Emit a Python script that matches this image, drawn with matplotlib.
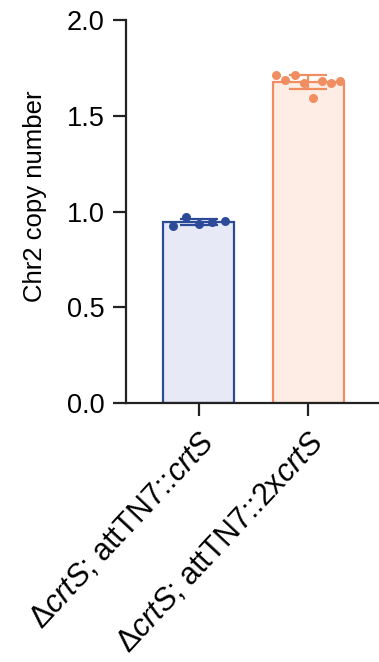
import numpy as np
import matplotlib.pyplot as plt

plt.rcParams['font.family'] = ['Liberation Sans', 'DejaVu Sans']
plt.rcParams['mathtext.fontset'] = 'custom'
plt.rcParams['mathtext.rm'] = 'Liberation Sans'
plt.rcParams['mathtext.it'] = 'Liberation Sans:italic'

# data
strains = [r'$\Delta$$\it{crtS}$; attTN7::$\it{crtS}$',
           r'$\Delta$$\it{crtS}$; attTN7::2x$\it{crtS}$']
single_copy = [0.925, 0.97, 0.935, 0.945, 0.95]
double_copy = [1.71, 1.685, 1.71, 1.67, 1.59, 1.68, 1.67, 1.68]
groups = [single_copy, double_copy]

edge_colors = ['#2d4a98', '#f08e62']
face_colors = ['#e7eaf6', '#fdede5']
spread = [0.24, 0.29]

fig = plt.figure(figsize=(3.79, 6.62), dpi=100)
ax = fig.add_axes([0.332, 0.391, 0.668, 0.579])

lw = 1.6
for i, vals in enumerate(groups):
    vals = np.array(vals)
    mean = vals.mean()
    sd = vals.std(ddof=1)
    ax.bar(i, mean, width=0.65, color=face_colors[i], edgecolor=edge_colors[i],
           linewidth=lw, zorder=1)
    xs = i + np.linspace(-spread[i], spread[i], len(vals))
    ax.scatter(xs, vals, s=42, color=edge_colors[i], zorder=3, linewidths=0)
    ax.errorbar(i, mean, yerr=sd, color=edge_colors[i], capsize=14,
                elinewidth=lw, capthick=lw, zorder=4)

ax.set_xlim(-0.67, 1.65)
ax.set_ylim(0, 2.0)
ax.set_yticks([0.0, 0.5, 1.0, 1.5, 2.0])
ax.set_yticklabels(['0.0', '0.5', '1.0', '1.5', '2.0'])
ax.set_xticks([0, 1])
ax.set_xticklabels(strains, rotation=47, ha='right', rotation_mode='anchor', fontsize=22)
ax.set_ylabel('Chr2 copy number', fontsize=18.5)
ax.yaxis.set_label_coords(-0.31, 0.54)

for side in ['top', 'right']:
    ax.spines[side].set_visible(False)
for side in ['left', 'bottom']:
    ax.spines[side].set_linewidth(lw)
    ax.spines[side].set_color('#222222')
ax.tick_params(axis='both', width=lw, length=9.5, color='#222222')
ax.tick_params(axis='y', labelsize=19.5, pad=6)
ax.tick_params(axis='x', pad=8)

fig.savefig('out.png', dpi=100)
